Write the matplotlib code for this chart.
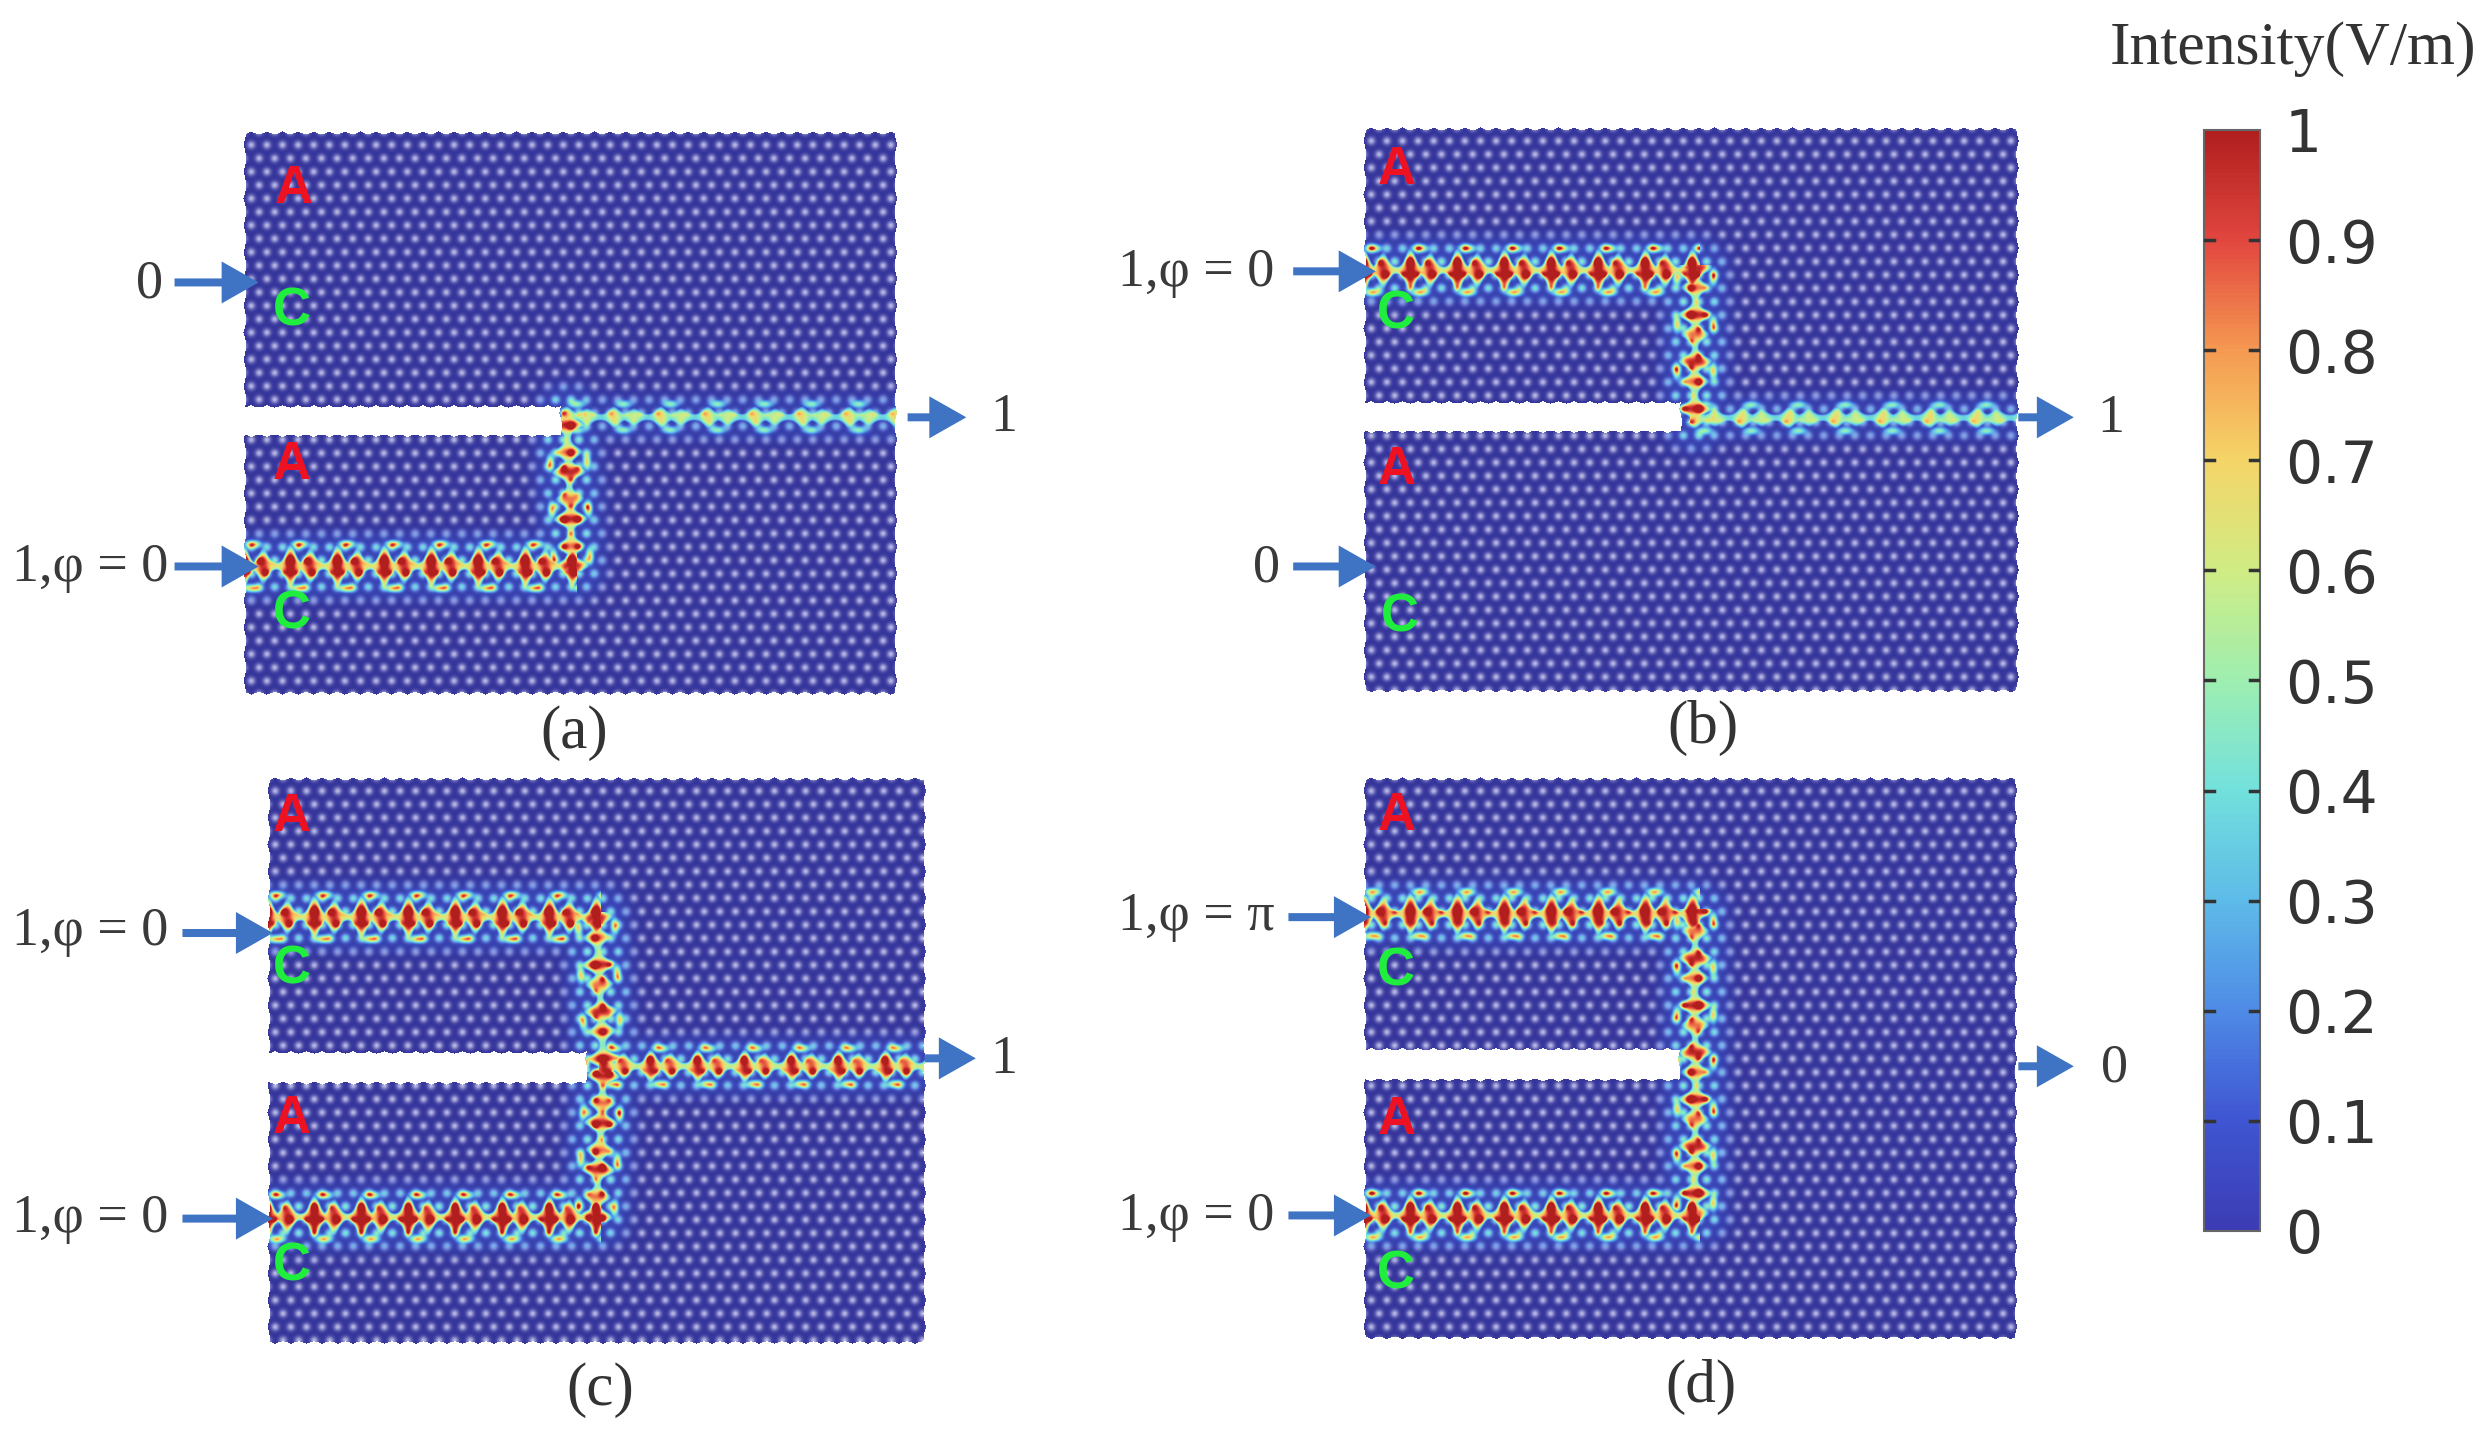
import numpy as np
import matplotlib
matplotlib.use("Agg")
import matplotlib.pyplot as plt
from matplotlib.colors import LinearSegmentedColormap
from matplotlib.cm import ScalarMappable
from matplotlib.patches import FancyArrow

W, H = 2488, 1430
S = W / 1568

# colour scale
bar_ticks = [0, 0.1, 0.2, 0.3, 0.4, 0.5, 0.6, 0.7, 0.8, 0.9, 1]
bar_labels = ["0", "0.1", "0.2", "0.3", "0.4", "0.5", "0.6", "0.7", "0.8", "0.9", "1"]
bar_colors = ["#3c3cb4", "#3f55d2", "#4f8be6", "#5ebbe8", "#72e0dc", "#9eeeb0",
              "#d0ec84", "#f5d568", "#f59a52", "#e2473f", "#b01e1e"]

# panels: left, right, top, bottom
panel_names = ["(a)", "(b)", "(c)", "(d)"]
panel_boxes = [(153, 565, 83, 438), (859, 1272, 80, 436),
               (168, 583, 490, 847), (859, 1271, 490, 844)]
# air slot: right end, top, bottom
slot_boxes = [(352, 256, 275), (1058, 253, 272), (368, 663, 683), (1057, 661, 681)]
caption_xy = [(362, 462), (1073, 459), (378, 876), (1072, 874)]

# guided light: path, strength, half height of the spikes
guides_a = [([(153, 357), (360, 357), (357, 263)], 1.0, 15),
            ([(357, 263), (565, 263)], 0.62, 6)]
guides_b = [([(859, 170), (1068, 170), (1068, 263)], 1.0, 15),
            ([(1068, 263), (1272, 263)], 0.62, 6)]
guides_c = [([(168, 578), (375, 578), (380, 672)], 1.0, 15),
            ([(168, 767), (375, 767), (380, 672)], 1.0, 15),
            ([(380, 672), (583, 672)], 0.92, 11)]
guides_d = [([(859, 576), (1068, 576), (1068, 766)], 1.0, 15),
            ([(859, 766), (1068, 766)], 1.0, 15)]
panel_guides = [guides_a, guides_b, guides_c, guides_d]

# text beside the ports: x (right end), y, text
port_texts = [(103, 179, "0"), (106, 358, "1,φ = 0"), (641, 263, "1"),
              (803, 172, "1,φ = 0"), (807, 358, "0"), (1339, 264, "1"),
              (106, 587, "1,φ = 0"), (106, 768, "1,φ = 0"), (641, 668, "1"),
              (803, 578, "1,φ = π"), (803, 767, "1,φ = 0"), (1341, 673, "0")]
# arrows: x start, x end, y
port_arrows = [(110, 163, 178), (110, 163, 357), (572, 609, 263),
               (815, 867, 171), (815, 867, 357), (1272, 1307, 263),
               (115, 172, 588), (115, 172, 768), (583, 615, 667),
               (812, 864, 578), (812, 864, 766), (1272, 1307, 672)]
letters_a = [(185, 119), (880, 107), (184, 293), (880, 296),
             (184, 515), (880, 514), (184, 705), (880, 706)]
letters_c = [(184, 196), (880, 198), (184, 387), (882, 389),
             (184, 611), (880, 612), (184, 798), (880, 803)]

cmap = LinearSegmentedColormap.from_list("rainbow_bar", list(zip(bar_ticks, bar_colors)))

A_LAT = 15.6
H_LAT = 13.4
WAVE = 47.0


def hole_mask(X, Y):
    u = np.mod(X, A_LAT)
    v = np.mod(Y, 2 * H_LAT)
    best = np.full(X.shape, 1e9)
    for px, py in [(0, 0), (A_LAT, 0), (A_LAT / 2, H_LAT), (0, 2 * H_LAT), (A_LAT, 2 * H_LAT)]:
        best = np.minimum(best, np.hypot(u - px, v - py))
    return np.exp(-(best / 3.8) ** 2)


def guide_field(X, Y, path, amp, spike):
    main = np.zeros(X.shape)
    side = np.zeros(X.shape)
    halo = np.zeros(X.shape)
    s0 = 0.0
    for (x0, y0), (x1, y1) in zip(path[:-1], path[1:]):
        dx, dy = x1 - x0, y1 - y0
        L = np.hypot(dx, dy)
        # the bend goes down the waveguide weaker and more broken up
        upright = abs(dy) > abs(dx)
        seg_amp = amp * (0.9 if upright else 1.0)
        seg_spike = spike * (0.75 if upright else 1.0)
        proj = ((X - x0) * dx + (Y - y0) * dy) / L
        t = np.clip(proj / L, 0, 1)
        perp = ((X - x0) * dy - (Y - y0) * dx) / L
        dist = np.hypot(X - x0 - t * dx, Y - y0 - t * dy)
        s = s0 + proj
        # two spikes in every period, the second one lower
        p1 = np.cos(np.pi * s / WAVE) ** 10
        p2 = 0.75 * np.cos(np.pi * (s - WAVE * 0.42) / WAVE) ** 10
        peak = np.maximum(p1, p2)
        width = 3.0 + seg_spike * peak
        inside = (proj > -5) & (proj < L + 5)
        base = 0.42 if upright else 0.52
        band = np.exp(-(perp / width) ** 4) * (base + (1 - base) * peak) * inside
        main = np.maximum(main, seg_amp * band)
        # loose spots beside the core
        p3 = np.cos(np.pi * (s - WAVE * 0.2) / WAVE) ** 8
        spot = np.exp(-((np.abs(perp) - (seg_spike + 7)) / 3.5) ** 2) * p3 * inside
        side = np.maximum(side, 0.72 * seg_amp * spot)
        halo = np.maximum(halo, 0.46 * amp * np.exp(-(dist / (spike + 19)) ** 4))
        s0 += L
    return main, side, halo


def panel_rgb(box, slot, guides):
    x0, x1, y0, y1 = [v * S for v in box]
    xs = np.arange(x0, x1, 1.0)
    ys = np.arange(y0, y1, 1.0)
    X, Y = np.meshgrid(xs, ys)
    main = np.zeros(X.shape)
    side = np.zeros(X.shape)
    halo = np.zeros(X.shape)
    for path, amp, spike in guides:
        pts = [(a * S, b * S) for a, b in path]
        m, sd, h = guide_field(X, Y, pts, amp, spike)
        main = np.maximum(main, m)
        side = np.maximum(side, sd)
        halo = np.maximum(halo, h)
    holes = hole_mask(X - x0, Y - y0)
    field = np.clip(np.maximum(main, side) + halo * (0.15 + 0.85 * holes), 0, 1)
    rgb = cmap(field)[..., :3]
    rgb = rgb * (0.86 + 0.14 * np.clip(field * 4, 0, 1))[..., None]
    lav = np.array([0.72, 0.72, 0.90])
    k = (holes * (1 - np.clip(field * 2.4, 0, 1)))[..., None]
    rgb = rgb * (1 - k) + lav * k
    # scalloped outline
    sc = 2.5 * np.abs(np.cos(np.pi * (X - x0) / A_LAT))
    sc_y = 2.5 * np.abs(np.cos(np.pi * (Y - y0) / (2 * H_LAT)))
    white = (Y < y0 + sc) | (Y > y1 - sc) | (X < x0 + sc_y) | (X > x1 - sc_y)
    sx, st, sb = [v * S for v in slot]
    white |= (X < sx + sc_y) & (Y > st - 1 + sc) & (Y < sb + 1 - sc)
    rgb[white] = 1.0
    return rgb


fig = plt.figure(figsize=(W / 100, H / 100), dpi=100)
ax = fig.add_axes([0, 0, 1, 1])

for box, slot, guides, name, cap in zip(panel_boxes, slot_boxes, panel_guides, panel_names, caption_xy):
    x0, x1, y0, y1 = [v * S for v in box]
    ax.imshow(panel_rgb(box, slot, guides), extent=(x0, x1, y1, y0),
              interpolation="bilinear", zorder=1)
    ax.text(cap[0] * S, cap[1] * S, name, family="Liberation Serif", fontsize=44,
            color="#333333", ha="center", va="center")

for x, y, txt in port_texts:
    ax.text(x * S, y * S, txt, family="Liberation Serif", fontsize=39, color="#3a3a3a",
            ha="right", va="center")

for xa, xb, y in port_arrows:
    ax.add_patch(FancyArrow(xa * S, y * S, (xb - xa) * S, 0, width=8, head_width=42,
                            head_length=37, length_includes_head=True,
                            color="#3f74c4", lw=0, zorder=4))

for x, y in letters_a:
    ax.text(x * S, y * S, "A", family="Liberation Sans", weight="bold", fontsize=38,
            color="#ee1122", ha="center", va="center", zorder=3)
for x, y in letters_c:
    ax.text(x * S, y * S, "C", family="Liberation Sans", weight="bold", fontsize=38,
            color="#1fee3c", ha="center", va="center", zorder=3)

ax.text(1445 * S, 31 * S, "Intensity(V/m)", family="Liberation Serif", fontsize=44.5,
        color="#333333", ha="center", va="center")

ax.set_xlim(0, W)
ax.set_ylim(H, 0)
ax.axis("off")

# colour bar
cax = fig.add_axes([2204 / W, 1 - 1231 / H, 56 / W, 1101 / H])
cb = fig.colorbar(ScalarMappable(cmap=cmap, norm=plt.Normalize(0, 1)), cax=cax)
cb.set_ticks(bar_ticks)
cb.set_ticklabels(bar_labels)
cax.yaxis.set_tick_params(length=0, labelsize=42, labelcolor="#333333", pad=18)
trans = cax.get_yaxis_transform()
for v in bar_ticks[1:-1]:
    cax.plot([0, 0.18], [v, v], color="#333333", lw=2.5, transform=trans, zorder=5)
    cax.plot([0.82, 1], [v, v], color="#333333", lw=2.5, transform=trans, zorder=5)
cax.set_ylim(0, 1)
cb.outline.set_edgecolor("#666666")
cb.outline.set_linewidth(1.5)

fig.savefig("out.png", dpi=100)
